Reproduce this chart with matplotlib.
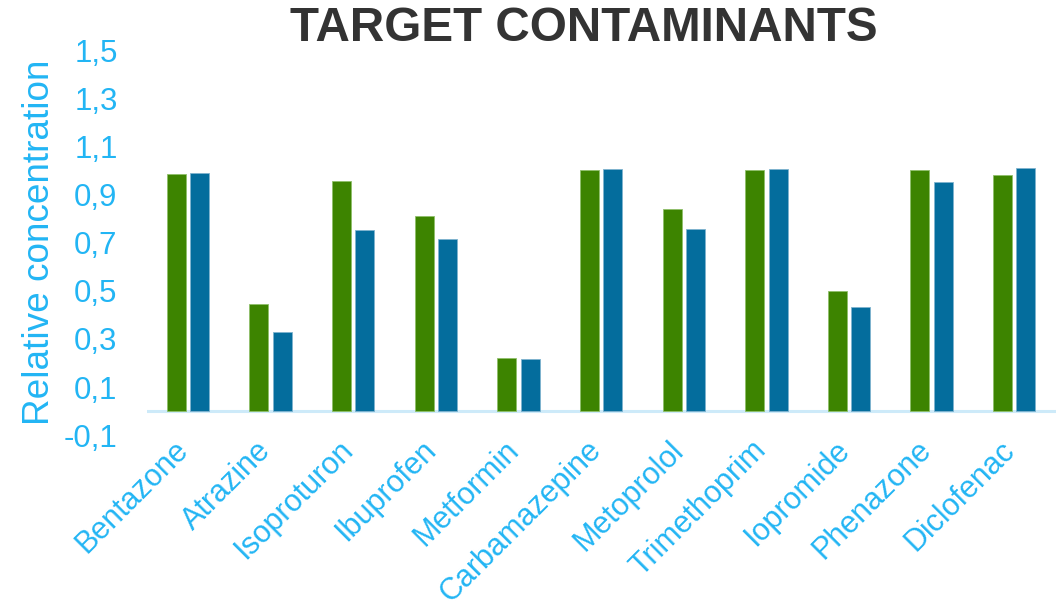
import matplotlib.pyplot as plt
import matplotlib.transforms as mtransforms
import numpy as np

plt.rcParams['font.family'] = ['Liberation Sans', 'DejaVu Sans']

# relative concentration per compound, two series
compounds = ['Bentazone', 'Atrazine', 'Isoproturon', 'Ibuprofen', 'Metformin',
             'Carbamazepine', 'Metoprolol', 'Trimethoprim', 'Iopromide',
             'Phenazone', 'Diclofenac']
series_green = [0.985, 0.443, 0.957, 0.810, 0.219, 1.002, 0.839, 1.002, 0.497, 1.000, 0.983]
series_blue = [0.990, 0.329, 0.752, 0.715, 0.217, 1.007, 0.758, 1.007, 0.434, 0.953, 1.009]
y_ticks = [-0.1, 0.1, 0.3, 0.5, 0.7, 0.9, 1.1, 1.3, 1.5]

GREEN = '#3d8400'
BLUE = '#046d9d'
LABEL_BLUE = '#22b5f4'
TITLE_GREY = '#333333'


def main() -> None:
    fig = plt.figure(figsize=(10.63, 6.12), dpi=100)
    ax = fig.add_axes([0.138, 0.289, 0.855, 0.629])

    x = np.arange(len(compounds))
    width = 0.23
    off = 0.142
    ax.bar(x - off, series_green, width, color=GREEN, edgecolor='#8fbf6a', linewidth=0.6, zorder=3)
    ax.bar(x + off, series_blue, width, color=BLUE, edgecolor='#7fb3cf', linewidth=0.6, zorder=3)

    ax.axhline(0, color='#cdeaf9', linewidth=2.2, zorder=2)

    ax.set_xlim(-0.5, len(compounds) - 0.5)
    ax.set_ylim(-0.1, 1.5)
    ax.set_yticks(y_ticks)
    ax.set_yticklabels([f'{v:.1f}'.replace('.', ',') for v in y_ticks],
                       fontsize=22.5, color=LABEL_BLUE)
    ax.set_xticks(x)
    ax.set_xticklabels(compounds, rotation=45, ha='right', va='top',
                       rotation_mode='anchor', fontsize=22, color=LABEL_BLUE)
    ax.tick_params(axis='both', length=0)
    ax.tick_params(axis='y', pad=21)
    ax.tick_params(axis='x', pad=0)
    # pull the slanted names so they end just left of each group centre
    shift = mtransforms.ScaledTranslation(-15 / 100, 0 / 100, fig.dpi_scale_trans)
    for lbl in ax.get_xticklabels():
        lbl.set_transform(lbl.get_transform() + shift)
    for s in ax.spines.values():
        s.set_visible(False)

    ax.set_ylabel('Relative concentration', fontsize=26.6, color=LABEL_BLUE, va='center')
    ax.yaxis.set_label_coords(-0.1175, 0.5)
    fig.text(0.549, 0.953, 'TARGET CONTAMINANTS', ha='center', va='center',
             fontsize=34.3, fontweight='bold', color=TITLE_GREY)

    fig.savefig('out.png', dpi=100)


if __name__ == "__main__":
    main()
